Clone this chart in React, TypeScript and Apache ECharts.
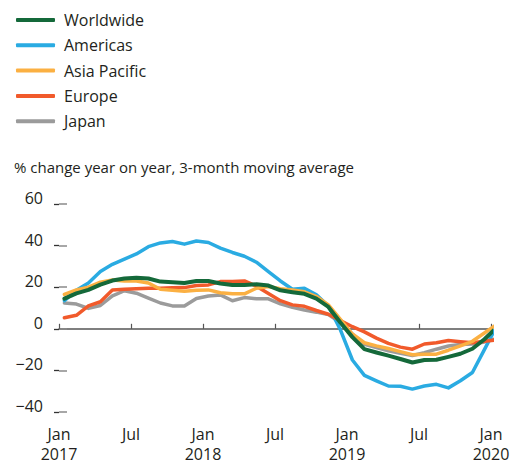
import React, { useEffect, useRef } from "react";
import * as echarts from "echarts";

// Monthly observations, Jan 2017 .. Jan 2020 (37 months)
const months: string[] = [
  "2017-01","2017-02","2017-03","2017-04","2017-05","2017-06","2017-07","2017-08","2017-09","2017-10","2017-11","2017-12",
  "2018-01","2018-02","2018-03","2018-04","2018-05","2018-06","2018-07","2018-08","2018-09","2018-10","2018-11","2018-12",
  "2019-01","2019-02","2019-03","2019-04","2019-05","2019-06","2019-07","2019-08","2019-09","2019-10","2019-11","2019-12",
  "2020-01",
];

const worldwide = [14.5, 17, 18.7, 21.2, 23.2, 24.2, 24.5, 24.2, 22.7, 22.4, 22, 23, 23, 21.8, 21.1, 21.1, 21.4, 20.8, 18.5, 17.6, 16.8, 14.5, 10.5, 3, -4, -9.8, -11.4, -12.9, -14.5, -16.2, -15, -14.9, -13.5, -12, -9.6, -5, 0.5];
const americas = [13.5, 18.5, 22, 27.5, 31, 33.5, 36, 39.5, 41.3, 42, 40.7, 42.2, 41.5, 38.8, 36.7, 34.9, 32, 27.5, 23, 19, 19.5, 16.3, 11, -0.5, -15, -22.4, -25, -27.5, -27.6, -29, -27.5, -26.7, -28.4, -25, -21, -10, 1];
const asiaPacific = [16.5, 18.7, 20, 22.4, 23.5, 23, 23, 22, 19, 18.5, 18, 18.5, 18.7, 17.3, 16.8, 16.8, 19.5, 20.3, 19.3, 18.7, 17.8, 15.5, 11.5, 4.5, -2.5, -6.7, -8.2, -9.5, -11, -12.5, -12.2, -12.2, -10.3, -8.2, -6, -2, 2];
const europe = [5.3, 6.5, 11, 13, 18.7, 19, 19.2, 19.5, 19.5, 19.7, 19.8, 20.8, 21.1, 22.7, 22.8, 23, 20.5, 17, 13.5, 11.5, 10.8, 8.8, 7, 4, 1, -1.5, -4.5, -7, -8.8, -9.8, -7.3, -6.7, -5.6, -6.2, -6.7, -6, -5.3];
const japan = [12.4, 11.9, 9.8, 11.2, 15.8, 18.3, 17.1, 14.8, 12.4, 11, 11, 14.6, 15.8, 16.3, 13.5, 15, 14.4, 14.4, 12, 10.3, 9, 8, 6.8, 3, -2.5, -7.5, -9, -10.6, -11.8, -12.8, -11.5, -9.8, -8.3, -7.5, -7.3, -6.3, -4.8];

const xTickLabels = ["Jan\n2017", "Jul", "Jan\n2018", "Jul", "Jan\n2019", "Jul", "Jan\n2020"];
const yTicks = [-40, -20, 0, 20, 40, 60];
const subtitle = "% change year on year, 3-month moving average";

const seriesDefs = [
  { name: "Japan", data: japan, color: "#9b9b9b", width: 3.5, z: 2 },
  { name: "Americas", data: americas, color: "#2aabe2", width: 3.5, z: 3 },
  { name: "Europe", data: europe, color: "#f15a2b", width: 3.5, z: 4 },
  { name: "Asia Pacific", data: asiaPacific, color: "#fbb042", width: 3.5, z: 5 },
  { name: "Worldwide", data: worldwide, color: "#14693a", width: 4, z: 6 },
];
const legendOrder = ["Worldwide", "Americas", "Asia Pacific", "Europe", "Japan"];

const FONT = "'Open Sans', Lato, sans-serif";
const TEXT = "#231f20";

export default function App() {
  const ref = useRef<HTMLDivElement>(null);
  useEffect(() => {
    if (!ref.current) return;
    const chart = echarts.init(ref.current, undefined, { renderer: "svg" });
    const midMonth = 0.45;
    chart.setOption({
      animation: false,
      textStyle: { fontFamily: FONT, color: TEXT },
      title: {
        text: subtitle,
        left: 9,
        top: 154,
        textStyle: { fontFamily: FONT, fontSize: 15, fontWeight: "normal", color: TEXT },
      },
      legend: {
        orient: "vertical",
        left: 11,
        top: 5,
        itemWidth: 39,
        itemHeight: 4,
        itemGap: 5.3,
        icon: "roundRect",
        data: legendOrder,
        textStyle: { fontFamily: FONT, fontSize: 16, color: TEXT, lineHeight: 20, padding: [0, 0, 0, 4] },
      },
      grid: { left: 59, right: 26, top: 204, bottom: 49, containLabel: false },
      xAxis: [
        {
          type: "value",
          min: 0,
          max: 36,
          interval: 6,
          position: "bottom",
          axisLine: { show: false, onZero: false },
          axisTick: { show: false },
          splitLine: { show: false },
          axisLabel: {
            margin: 12,
            fontFamily: FONT,
            fontSize: 16,
            lineHeight: 20,
            color: TEXT,
            formatter: (v: number) => xTickLabels[Math.round(v / 6)] ?? "",
          },
        },
        {
          type: "value",
          min: 0,
          max: 36,
          interval: 6,
          position: "bottom",
          axisLine: { show: true, onZero: true, lineStyle: { color: "#555", width: 1.5 } },
          axisTick: { show: true, inside: true, length: 5, lineStyle: { color: "#555", width: 1.2 } },
          axisLabel: { show: false },
          splitLine: { show: false },
        },
      ],
      yAxis: [
        {
          type: "value",
          min: yTicks[0],
          max: yTicks[yTicks.length - 1],
          interval: 20,
          position: "left",
          offset: 6,
          axisLine: { show: false },
          axisTick: { show: true, length: 5, lineStyle: { color: "#333", width: 1.3 } },
          splitLine: { show: false },
          axisLabel: {
            margin: 10,
            fontFamily: FONT,
            fontSize: 16,
            lineHeight: 12,
            verticalAlign: "bottom",
            color: TEXT,
            formatter: (v: number) => (v < 0 ? "\u2212" + Math.abs(v) : String(v)),
          },
        },
        {
          type: "value",
          min: yTicks[0],
          max: yTicks[yTicks.length - 1],
          interval: 20,
          position: "right",
          offset: 17,
          axisLine: { show: false },
          axisTick: { show: true, length: 8, lineStyle: { color: "#8a8a8a", width: 1.5 } },
          splitLine: { show: false },
          axisLabel: { show: false },
        },
      ],
      series: seriesDefs.map((s) => ({
        name: s.name,
        type: "line",
        xAxisIndex: 0,
        yAxisIndex: 0,
        data: s.data.map((v, i) => [i + midMonth, v]),
        symbol: "none",
        clip: false,
        z: s.z,
        color: s.color,
        lineStyle: { color: s.color, width: s.width, cap: "round", join: "round" },
      })),
    });
    return () => chart.dispose();
  }, []);
  return (
    <div
      ref={ref}
      style={{ position: "absolute", left: 0, top: 0, width: 517, height: 464, background: "#fff" }}
    />
  );
}
